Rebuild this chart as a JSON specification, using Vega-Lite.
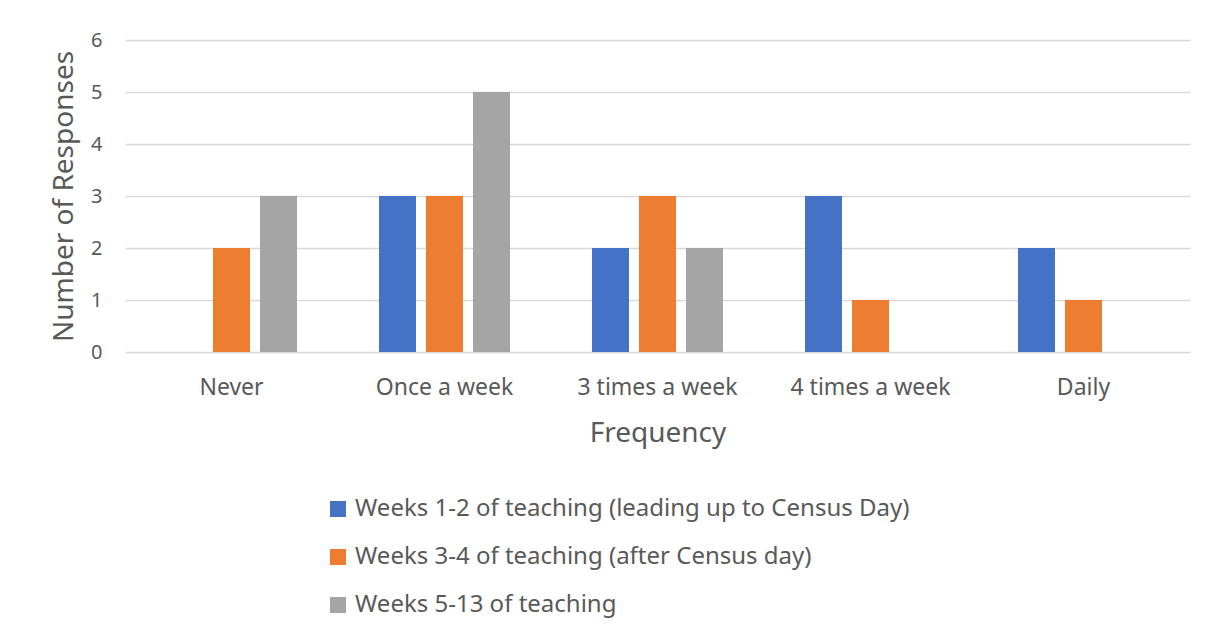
{
  "$schema": "https://vega.github.io/schema/vega-lite/v6.json",
  "width": 1065,
  "height": 312,
  "autosize": {"type": "none"},
  "padding": {"left": 125, "top": 40, "right": 18, "bottom": 285},
  "background": "white",
  "data": {
    "values": [
      {"freq": "Never", "period": "Weeks 1-2 of teaching (leading up to Census Day)", "n": 0},
      {"freq": "Never", "period": "Weeks 3-4 of teaching (after Census day)", "n": 2},
      {"freq": "Never", "period": "Weeks 5-13 of teaching", "n": 3},
      {"freq": "Once a week", "period": "Weeks 1-2 of teaching (leading up to Census Day)", "n": 3},
      {"freq": "Once a week", "period": "Weeks 3-4 of teaching (after Census day)", "n": 3},
      {"freq": "Once a week", "period": "Weeks 5-13 of teaching", "n": 5},
      {"freq": "3 times a week", "period": "Weeks 1-2 of teaching (leading up to Census Day)", "n": 2},
      {"freq": "3 times a week", "period": "Weeks 3-4 of teaching (after Census day)", "n": 3},
      {"freq": "3 times a week", "period": "Weeks 5-13 of teaching", "n": 2},
      {"freq": "4 times a week", "period": "Weeks 1-2 of teaching (leading up to Census Day)", "n": 3},
      {"freq": "4 times a week", "period": "Weeks 3-4 of teaching (after Census day)", "n": 1},
      {"freq": "4 times a week", "period": "Weeks 5-13 of teaching", "n": 0},
      {"freq": "Daily", "period": "Weeks 1-2 of teaching (leading up to Census Day)", "n": 2},
      {"freq": "Daily", "period": "Weeks 3-4 of teaching (after Census day)", "n": 1},
      {"freq": "Daily", "period": "Weeks 5-13 of teaching", "n": 0}
    ]
  },
  "mark": {"type": "bar"},
  "encoding": {
    "x": {
      "field": "freq",
      "type": "nominal",
      "sort": ["Never", "Once a week", "3 times a week", "4 times a week", "Daily"],
      "scale": {"paddingInner": 0.385, "paddingOuter": 0.1925},
      "axis": {
        "title": "Frequency",
        "labelAngle": 0,
        "labelFontSize": 23,
        "labelColor": "#595959",
        "labelPadding": 24,
        "labelFont": "Noto Sans",
        "titleFont": "Noto Sans",
        "titleFontSize": 28,
        "titleFontWeight": "normal",
        "titleColor": "#595959",
        "titlePadding": 20,
        "ticks": false,
        "domain": false
      }
    },
    "xOffset": {
      "field": "period",
      "type": "nominal",
      "sort": ["Weeks 1-2 of teaching (leading up to Census Day)", "Weeks 3-4 of teaching (after Census day)", "Weeks 5-13 of teaching"],
      "scale": {"paddingInner": 0.213, "paddingOuter": 0}
    },
    "y": {
      "field": "n",
      "type": "quantitative",
      "scale": {"domain": [0, 6], "nice": false},
      "axis": {
        "title": "Number of Responses",
        "values": [0, 1, 2, 3, 4, 5, 6],
        "labelFontSize": 20,
        "labelColor": "#595959",
        "labelFont": "Noto Sans",
        "labelPadding": 23,
        "titleFont": "Noto Sans",
        "titleFontSize": 28,
        "titleFontWeight": "normal",
        "titleColor": "#595959",
        "titlePadding": 12,
        "ticks": false,
        "domain": false,
        "gridColor": "#d9d9d9",
        "gridWidth": 1.5
      }
    },
    "color": {
      "field": "period",
      "type": "nominal",
      "sort": ["Weeks 1-2 of teaching (leading up to Census Day)", "Weeks 3-4 of teaching (after Census day)", "Weeks 5-13 of teaching"],
      "scale": {"range": ["#4472C4", "#ED7D31", "#A5A5A5"]},
      "legend": {
        "title": null,
        "orient": "none",
        "legendX": 201,
        "legendY": 457,
        "direction": "vertical",
        "symbolType": "square",
        "symbolSize": 256,
        "symbolStrokeWidth": 0,
        "labelFontSize": 24,
        "labelFont": "Noto Sans",
        "labelColor": "#595959",
        "labelLimit": 0,
        "labelOffset": 5,
        "rowPadding": 24
      }
    }
  },
  "config": {
    "view": {"stroke": null},
    "font": "Noto Sans"
  }
}
